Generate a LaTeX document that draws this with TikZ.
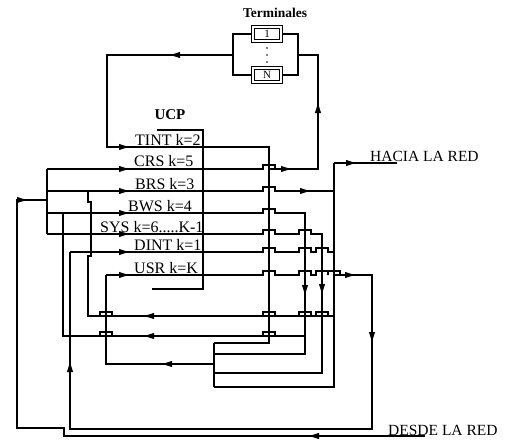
\documentclass[tikz,border=0pt]{standalone}
\usepackage{fontspec}
\setmainfont{Liberation Serif}
\usetikzlibrary{arrows.meta,positioning}
\tikzset{
  wire/.style={line width=1.6pt},
  tip/.style={wire,-{Latex[length=12pt,width=6.5pt]}},
  lbl/.style={font=\fontsize{16}{18}\selectfont, inner sep=0pt, anchor=base west},
  termbox/.style={draw, line width=1.3pt, double distance=1.6pt, minimum width=28pt,
    minimum height=14pt, inner sep=0pt, font=\fontsize{11}{12}\selectfont},
}
% bump of a horizontal wire (height y) over a vertical one at x
\newcommand\hop[2]{-- (#1-6,#2) -- (#1-6,#2-4) -- (#1+6,#2-4) -- (#1+6,#2)}
% arrow heads on a wire, tip at (x,y)
\newcommand\tipR[2]{\draw[tip] (#1-24,#2) -- (#1,#2);}
\newcommand\tipL[2]{\draw[tip] (#1+24,#2) -- (#1,#2);}
\newcommand\tipU[2]{\draw[tip] (#1,#2+24) -- (#1,#2);}
\newcommand\tipD[2]{\draw[tip] (#1,#2-24) -- (#1,#2);}
\begin{document}
\begin{tikzpicture}[x=1pt,y=-1pt]
\useasboundingbox (0,0) rectangle (509,444);
% terminales
\node[font=\fontsize{13.5}{15}\selectfont\bfseries] (term) at (275,13) {Terminales};
\node[termbox] (t1) at (267,34) {1};
\node[termbox] (tN) at (267,75) {N};
\foreach \y in {48,55,62} \fill (267,\y) circle (0.9pt);
\coordinate (bl) at (233,55); \coordinate (br) at (298,55);
\draw[wire] (t1.west) -| (bl) |- (tN.west);
\draw[wire] (t1.east) -| (br) |- (tN.east);
% UCP
\node[font=\fontsize{15}{17}\selectfont\bfseries] (ucp) at (170,115) {UCP};
\draw[line width=2.4pt] (157,130) -| (203,289) -- (152,289);
\node[lbl] (tint) at (135,145) {TINT k=2};
\node[lbl] (crs) at (134,166) {CRS k=5};
\node[lbl] (brs) at (135,189) {BRS k=3};
\node[lbl] (bws) at (128,211) {BWS k=4};
\node[lbl] (sys) at (100,232) {SYS k=6.....K-1};
\node[lbl] (dint) at (134,250) {DINT k=1};
\node[lbl] (usr) at (134,273) {USR k=K};
\node[font=\fontsize{15.5}{17}\selectfont, inner sep=0pt, anchor=base west] (hacia) at (370,161) {HACIA LA RED};
\node[font=\fontsize{15.5}{17}\selectfont, inner sep=0pt, anchor=base west] (desde) at (388,435) {DESDE LA RED};
\coordinate (brk) at (214,364);
% rows through the UCP
\draw[wire] (bl) -- (107,55) -- (107,147) -- (269,147) -- (269,343) -- (214,343);
\draw[wire] (47,169) \hop{269}{169} -- (318,169) -- (318,55) -- (br);
\draw[wire] (47,191) \hop{269}{191} -- (334,191);
\draw[wire] (47,213) \hop{269}{213} -- (305,213) -- (305,354) -- (214,354);
\draw[wire] (47,234) \hop{269}{234} \hop{305}{234} -- (322,234) -- (322,373) -- (214,373);
\draw[wire] (70,252) \hop{269}{252} \hop{305}{252} \hop{322}{252} -- (334,252);
\draw[wire] (106,275) \hop{269}{275} \hop{305}{275} \hop{322}{275} \hop{334}{275}
  -- (372,275) -- (372,429) -- (70,429) -- (70,252);
% buses and returns
\draw[wire] (47,169) -- (47,234);
\draw[wire] (334,163) -- (334,387) -- (214,387);
\draw[wire] (334,163) -- (397,163);
\draw[wire] (334,316) \hop{322}{316} \hop{305}{316} \hop{269}{316} \hop{106}{316}
  -- (88,316) -- (88,256) -- (91,256) -- (91,202) -- (88,202) -- (88,191);
\draw[wire] (305,336) \hop{269}{336} \hop{106}{336} -- (63,336) -- (63,213);
\draw[wire] (214,343) -- (214,387);
\draw[wire] (brk) -- (106,364) -- (106,275);
\draw[wire] (425,436) -- (64,436) -- (64,428) -- (17,428) -- (17,200) -- (47,200);
% arrow heads
\tipL{168}{55} \tipU{318}{101}
\draw[tip] (107,147) -- (131,147);
\draw[tip] (100,169) -- (131,169);
\draw[tip] (100,191) -- (131,191);
\draw[tip] (100,213) -- (131,213);
\draw[tip] (100,234) -- (131,234);
\draw[tip] (100,252) -- (131,252);
\draw[tip] (106,275) -- (131,275);
\draw[tip] (17,200) -- (29,200);
\tipR{293}{169} \tipR{312}{191} \tipR{358}{163} \tipR{357}{275}
\tipD{305}{297} \tipD{322}{296} \tipD{372}{344}
\tipU{70}{360}
\tipL{142}{316} \tipL{142}{336} \tipL{160}{364}
\tipL{307}{436}
\end{tikzpicture}
\end{document}
